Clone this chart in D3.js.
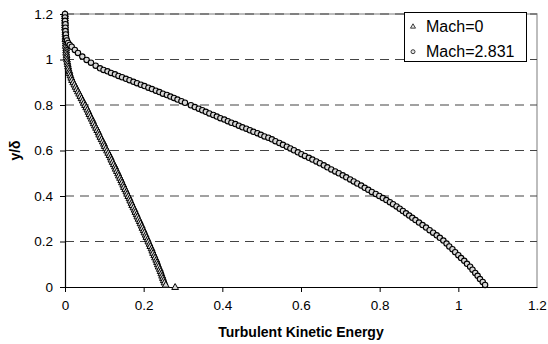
<!DOCTYPE html>
<html>
<head>
<meta charset="utf-8">
<script src="https://cdn.jsdelivr.net/npm/d3@7"></script>
<style>
  html, body { margin: 0; padding: 0; background: #fff; }
  svg { display: block; font-family: "Liberation Sans", Arial, sans-serif; }
</style>
</head>
<body>
<svg id="chart" width="548" height="344"></svg>
<script>
// ---- data ----
const xTicks = [0, 0.2, 0.4, 0.6, 0.8, 1, 1.2];
const yTicks = [0, 0.2, 0.4, 0.6, 0.8, 1, 1.2];
const seriesNames = ["Mach=0", "Mach=2.831"];

const mach0Y = [1.20,1.19,1.18,1.17,1.16,1.15,1.14,1.13,1.12,1.11,1.10,
  1.09,1.08,1.07,1.06,1.05,1.04,1.03,1.02,1.01,1.00,
  0.99,0.98,0.97,0.96,0.95,0.94,0.93,0.92,0.91,0.90,
  0.89,0.88,0.87,0.86,0.85,0.84,0.83,0.82,0.81,0.80,
  0.79,0.78,0.77,0.76,0.75,0.74,0.73,0.72,0.71,0.70,
  0.69,0.68,0.67,0.66,0.65,0.64,0.63,0.62,0.61,0.60,
  0.59,0.58,0.57,0.56,0.55,0.54,0.53,0.52,0.51,0.50,
  0.49,0.48,0.47,0.46,0.45,0.44,0.43,0.42,0.41,0.40,
  0.39,0.38,0.37,0.36,0.35,0.34,0.33,0.32,0.31,0.30,
  0.29,0.28,0.27,0.26,0.25,0.24,0.23,0.22,0.21,0.20,
  0.19,0.18,0.17,0.16,0.15,0.14,0.13,0.12,0.11,0.10,
  0.09,0.08,0.07,0.06,0.05,0.04,0.03,0.02,0.01,0.00];
const mach0X = [0,0,0,0,0,0,0,0.001,0.001,0.001,0.001,
  0.001,0.002,0.002,0.002,0.003,0.003,0.003,0.004,0.004,0.005,
  0.006,0.007,0.008,0.009,0.011,0.012,0.014,0.016,0.018,0.021,
  0.024,0.027,0.030,0.033,0.036,0.039,0.042,0.045,0.048,0.051,
  0.054,0.057,0.060,0.062,0.065,0.068,0.071,0.073,0.076,0.079,
  0.082,0.085,0.087,0.090,0.093,0.096,0.099,0.101,0.104,0.107,
  0.110,0.113,0.116,0.118,0.121,0.124,0.127,0.129,0.132,0.135,
  0.137,0.140,0.143,0.145,0.148,0.150,0.153,0.156,0.158,0.161,
  0.164,0.166,0.169,0.171,0.174,0.177,0.179,0.182,0.184,0.187,
  0.190,0.192,0.195,0.197,0.200,0.202,0.205,0.207,0.210,0.212,
  0.215,0.217,0.220,0.222,0.224,0.227,0.229,0.232,0.234,0.236,
  0.238,0.241,0.243,0.245,0.247,0.249,0.251,0.253,0.256,0.280];

const mach2831X = [0,0,0,0.001,0.001,0.001,0.002,0.003,
  0.005,0.008,0.012,0.017,0.025,0.033,0.044,0.055,
  0.066,0.078,0.089,
  0.098,0.108,0.117,0.127,0.136,0.145,0.155,0.164,0.174,
  0.183,0.193,0.202,0.212,0.221,0.231,0.240,0.249,0.259,
  0.268,0.277,0.286,0.296,0.305,
  0.320,0.330,0.340,0.349,0.358,0.367,0.377,0.386,
  0.395,0.405,0.414,0.423,0.433,0.442,0.451,0.461,0.470,0.479,0.489,0.498,0.507,0.517,0.526,
  0.535,0.545,0.554,0.564,0.573,0.582,0.592,0.601,0.610,0.620,0.629,0.639,0.648,
  0.658,0.667,0.677,0.687,0.696,0.706,0.715,0.725,
  0.734,0.743,0.753,0.762,0.771,0.780,0.790,0.799,
  0.808,0.817,0.826,0.834,0.843,0.851,0.859,
  0.867,0.875,0.883,0.891,0.900,
  0.909,0.918,0.927,0.936,0.945,0.953,0.962,
  0.970,0.977,0.985,0.992,1.000,1.007,1.015,1.022,1.030,
  1.036,1.043,1.049,1.055,1.062,1.068];
const mach2831Y = [1.200,1.185,1.170,1.155,1.140,1.125,1.110,1.095,
  1.084,1.073,1.064,1.056,1.042,1.029,1.013,0.998,
  0.986,0.973,0.961,
  0.954,0.948,0.941,0.935,0.928,0.922,0.915,0.909,0.902,
  0.896,0.889,0.883,0.876,0.870,0.863,0.857,0.850,0.844,
  0.837,0.831,0.824,0.817,0.810,
  0.799,0.791,0.784,0.777,0.770,0.763,0.756,0.749,
  0.742,0.736,0.729,0.722,0.716,0.709,0.702,0.696,0.689,0.682,0.676,0.669,0.662,0.656,0.649,
  0.641,0.633,0.625,0.617,0.609,0.601,0.592,0.584,0.576,0.568,0.560,0.552,0.544,
  0.535,0.526,0.517,0.508,0.500,0.491,0.482,0.473,
  0.464,0.455,0.446,0.436,0.427,0.418,0.409,0.400,
  0.391,0.382,0.373,0.364,0.354,0.344,0.334,
  0.324,0.314,0.304,0.294,0.283,
  0.272,0.261,0.250,0.239,0.227,0.216,0.204,
  0.191,0.178,0.166,0.153,0.140,0.127,0.115,0.102,0.089,
  0.076,0.062,0.049,0.035,0.022,0.009];

// ---- chart ----
const svg = d3.select("#chart");
const L = 65, R = 537, T = 14, B = 287;
const x = d3.scaleLinear().domain([0, 1.2]).range([L, R]);
const y = d3.scaleLinear().domain([0, 1.2]).range([B, T]);
const fmt = d => d3.format("~g")(d);

// plot-area border (gray), right & top
svg.append("path")
  .attr("d", `M${L},${T}H${R}V${B}`)
  .attr("fill", "none").attr("stroke", "#a8a8a8").attr("stroke-width", 1.5);

// dashed gridlines
svg.append("g").selectAll("line")
  .data(yTicks.filter(v => v > 0))
  .join("line")
  .attr("x1", L).attr("x2", R)
  .attr("y1", d => y(d)).attr("y2", d => y(d))
  .attr("stroke", "#444").attr("stroke-width", 1.2)
  .attr("stroke-dasharray", "9,6");

// axes
const xAxis = svg.append("g").attr("transform", `translate(0,${B})`)
  .call(d3.axisBottom(x).tickValues(xTicks).tickFormat(fmt).tickSize(5).tickSizeOuter(0).tickPadding(8));
const yAxis = svg.append("g").attr("transform", `translate(${L},0)`)
  .call(d3.axisLeft(y).tickValues(yTicks).tickFormat(fmt).tickSize(5).tickSizeOuter(0).tickPadding(7));
[xAxis, yAxis].forEach(g => {
  g.select(".domain").attr("stroke", "#000").attr("stroke-width", 1.2);
  g.selectAll(".tick line").attr("stroke", "#000");
  g.selectAll(".tick text").attr("fill", "#000")
    .style("font-family", '"Liberation Sans", Arial, sans-serif').style("font-size", "13.5px");
});
xAxis.select(".tick:last-of-type line").remove();

// series Mach=0 (triangles)
const tri = d3.symbol(d3.symbolTriangle, 20)();
svg.append("g").selectAll("path")
  .data(mach0X.map((v, i) => [v, mach0Y[i]]))
  .join("path")
  .attr("d", tri)
  .attr("transform", d => `translate(${x(d[0])},${y(d[1]) + 0.5})`)
  .attr("fill", "#d8d8d8").attr("stroke", "#000").attr("stroke-width", 1);

// series Mach=2.831 (circles)
svg.append("g").selectAll("circle")
  .data(mach2831X.map((v, i) => [v, mach2831Y[i]]))
  .join("circle")
  .attr("cx", d => x(d[0])).attr("cy", d => y(d[1]))
  .attr("r", 2.7)
  .attr("fill", "#d8d8d8").attr("stroke", "#000").attr("stroke-width", 1.1);

// axis titles
svg.append("text")
  .attr("x", (L + R) / 2).attr("y", 337)
  .attr("text-anchor", "middle")
  .style("font-weight", "bold").style("font-size", "14px")
  .text("Turbulent Kinetic Energy");
svg.append("text")
  .attr("transform", `translate(20,${(T + B) / 2}) rotate(-90)`)
  .attr("text-anchor", "middle")
  .style("font-weight", "bold").style("font-size", "14px")
  .text("y/δ");

// legend
const lg = svg.append("g");
lg.append("rect").attr("x", 404.5).attr("y", 12.5).attr("width", 122).attr("height", 49)
  .attr("fill", "#fff").attr("stroke", "#000").attr("stroke-width", 1);
const legendItems = lg.selectAll("g.item").data(seriesNames).join("g")
  .attr("class", "item")
  .attr("transform", (d, i) => `translate(413,${26.7 + i * 25})`);
legendItems.each(function (d, i) {
  const g = d3.select(this);
  if (i === 0) {
    g.append("path").attr("d", d3.symbol(d3.symbolTriangle, 11)())
      .attr("fill", "#e4e4e4").attr("stroke", "#111").attr("stroke-width", 0.8);
  } else {
    g.append("circle").attr("r", 2)
      .attr("fill", "#e4e4e4").attr("stroke", "#111").attr("stroke-width", 0.8);
  }
  g.append("text").attr("x", 13).attr("dy", "0.36em")
    .style("font-size", "16px").text(d);
});
</script>
</body>
</html>
